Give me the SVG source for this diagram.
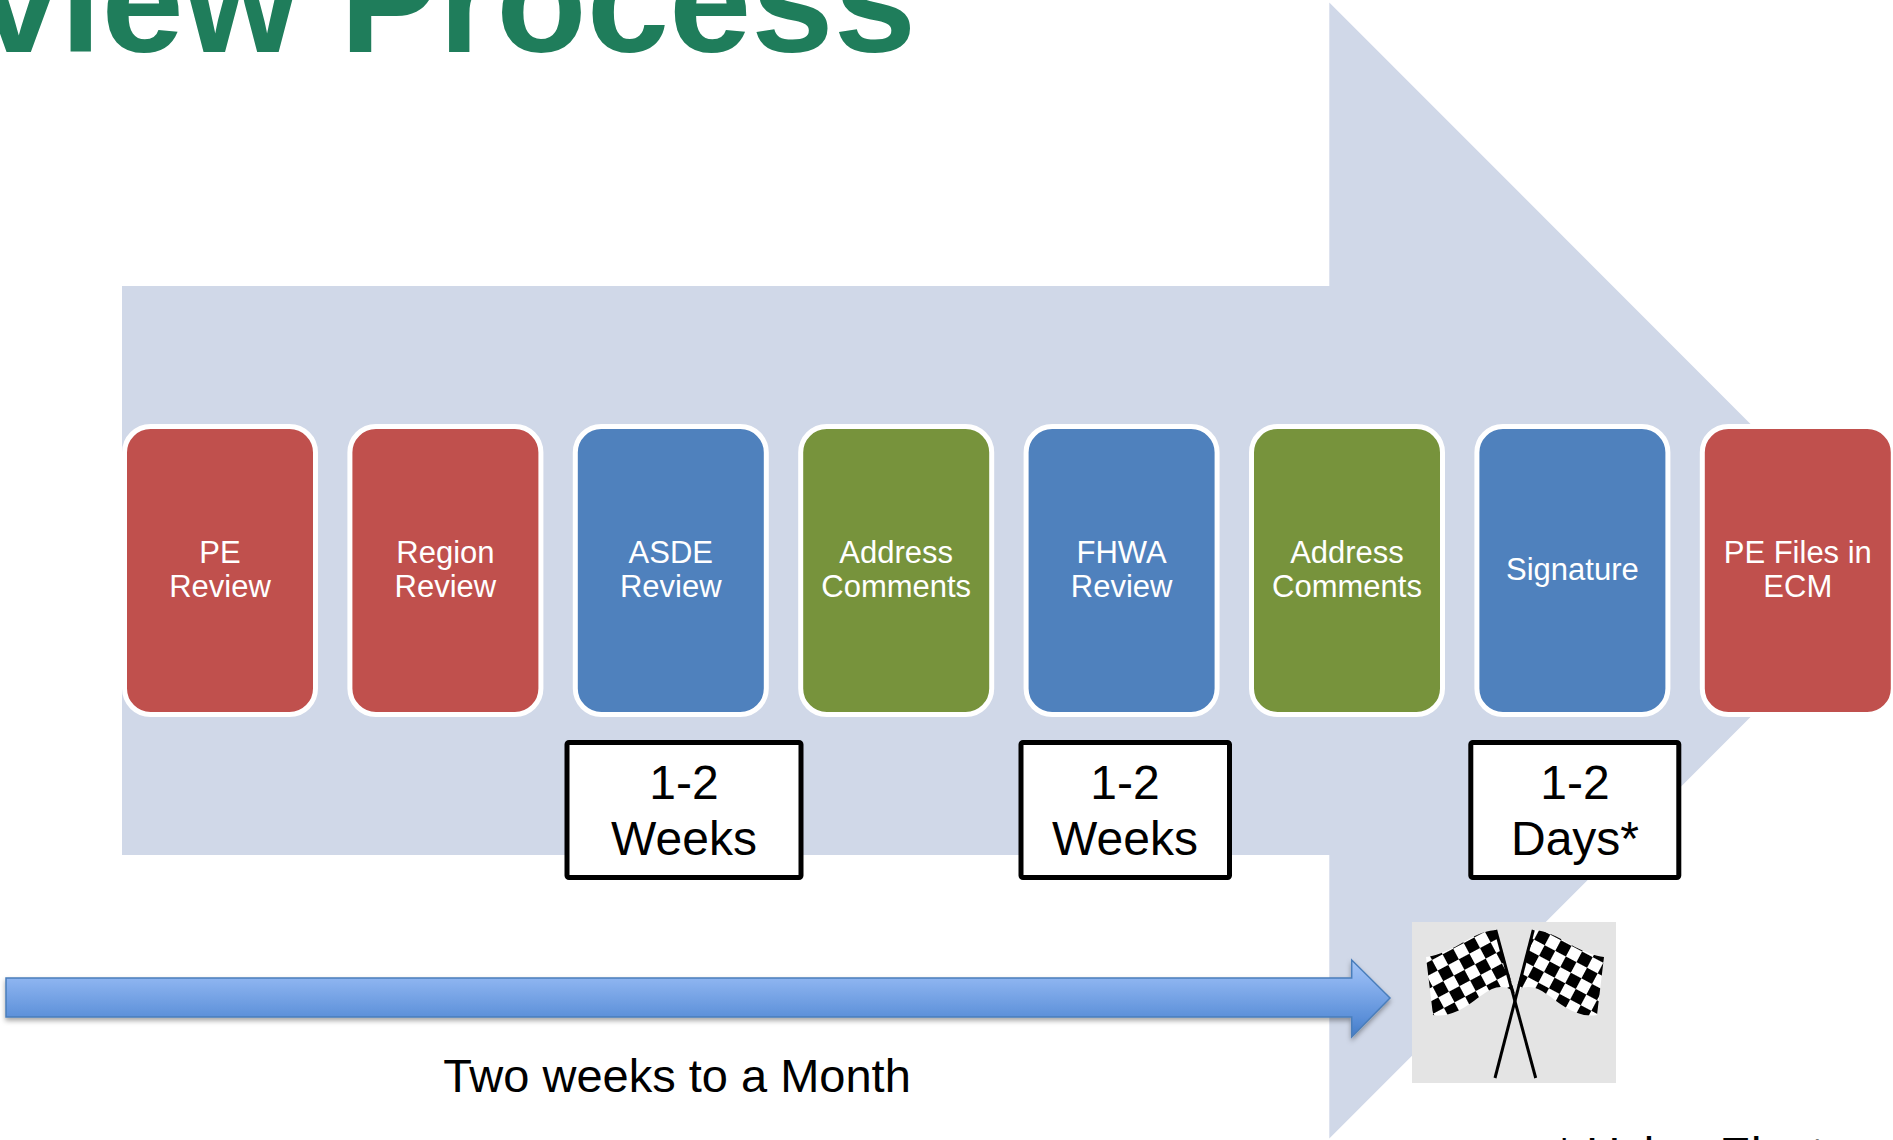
<svg xmlns="http://www.w3.org/2000/svg" width="1893" height="1140" viewBox="0 0 1893 1140">
  <style>
    .step rect { stroke: #FFFFFF; stroke-width: 5; }
    .step text { font-family: "Liberation Sans", Arial, sans-serif; font-size: 31px; fill: #FFFFFF; text-anchor: middle; }
    .red { fill: #C0504D; }
    .blue { fill: #4F81BD; }
    .green { fill: #77933C; }
    .dur rect { fill: #FFFFFF; stroke: #000000; stroke-width: 5; }
    .dur text { font-family: "Liberation Sans", Arial, sans-serif; font-size: 48px; fill: #000000; text-anchor: middle; }
    .plain { font-family: "Liberation Sans", Arial, sans-serif; font-size: 47px; fill: #000000; }
  </style>
  <defs>
    <linearGradient id="timelineFill" gradientUnits="userSpaceOnUse" x1="0" y1="960" x2="0" y2="1037">
      <stop offset="0" stop-color="#A3C4F6"/>
      <stop offset="0.25" stop-color="#8DB4F0"/>
      <stop offset="0.75" stop-color="#5C90D9"/>
      <stop offset="1" stop-color="#447BC6"/>
    </linearGradient>
    <filter id="dropShadow" x="-5%" y="-30%" width="110%" height="180%">
      <feDropShadow dx="0" dy="3" stdDeviation="2.5" flood-color="#000000" flood-opacity="0.35"/>
    </filter>
    <pattern id="checkL" width="24" height="24" patternUnits="userSpaceOnUse" patternTransform="rotate(-28 1460 970)">
      <rect width="24" height="24" fill="#FFFFFF"/>
      <rect width="12" height="12" fill="#000000"/>
      <rect x="12" y="12" width="12" height="12" fill="#000000"/>
    </pattern>
    <pattern id="checkR" width="24" height="24" patternUnits="userSpaceOnUse" patternTransform="rotate(28 1570 970)">
      <rect width="24" height="24" fill="#FFFFFF"/>
      <rect width="12" height="12" fill="#000000"/>
      <rect x="12" y="12" width="12" height="12" fill="#000000"/>
    </pattern>
  </defs>

  <!-- title, partly cut by the top and left edges -->
  <text x="-22" y="52" font-family="'Liberation Sans', Arial, sans-serif" font-weight="bold" font-size="148" fill="#1F7D5B">view Process</text>

  <!-- broad background arrow -->
  <path id="process-arrow" d="M122,286 H1329.3 V2.5 L1897,570.5 L1329.3,1138.5 V855 H122 Z" fill="#D0D8E8"/>

  <!-- process steps -->
  <g id="step-pe-review" class="step">
    <rect class="red" x="124.5" y="426.5" width="191" height="288" rx="26"/>
    <text x="220" y="563">PE</text>
    <text x="220" y="597">Review</text>
  </g>
  <g id="step-region-review" class="step">
    <rect class="red" x="349.9" y="426.5" width="191" height="288" rx="26"/>
    <text x="445.4" y="563">Region</text>
    <text x="445.4" y="597">Review</text>
  </g>
  <g id="step-asde-review" class="step">
    <rect class="blue" x="575.3" y="426.5" width="191" height="288" rx="26"/>
    <text x="670.8" y="563">ASDE</text>
    <text x="670.8" y="597">Review</text>
  </g>
  <g id="step-address-comments-1" class="step">
    <rect class="green" x="800.7" y="426.5" width="191" height="288" rx="26"/>
    <text x="896.2" y="563">Address</text>
    <text x="896.2" y="597">Comments</text>
  </g>
  <g id="step-fhwa-review" class="step">
    <rect class="blue" x="1026.1" y="426.5" width="191" height="288" rx="26"/>
    <text x="1121.6" y="563">FHWA</text>
    <text x="1121.6" y="597">Review</text>
  </g>
  <g id="step-address-comments-2" class="step">
    <rect class="green" x="1251.5" y="426.5" width="191" height="288" rx="26"/>
    <text x="1347" y="563">Address</text>
    <text x="1347" y="597">Comments</text>
  </g>
  <g id="step-signature" class="step">
    <rect class="blue" x="1476.9" y="426.5" width="191" height="288" rx="26"/>
    <text x="1572.4" y="580">Signature</text>
  </g>
  <g id="step-pe-files" class="step">
    <rect class="red" x="1702.3" y="426.5" width="191" height="288" rx="26"/>
    <text x="1797.8" y="563">PE Files in</text>
    <text x="1797.8" y="597">ECM</text>
  </g>

  <!-- durations -->
  <g id="duration-asde" class="dur">
    <rect x="567" y="742.5" width="234" height="135" rx="2"/>
    <text x="684" y="799">1-2</text>
    <text x="684" y="855">Weeks</text>
  </g>
  <g id="duration-fhwa" class="dur">
    <rect x="1021" y="742.5" width="208.5" height="135" rx="2"/>
    <text x="1125" y="799">1-2</text>
    <text x="1125" y="855">Weeks</text>
  </g>
  <g id="duration-signature" class="dur">
    <rect x="1470.8" y="742.5" width="208" height="135" rx="2"/>
    <text x="1575" y="799">1-2</text>
    <text x="1575" y="855">Days*</text>
  </g>

  <!-- overall timeline arrow -->
  <g id="connectors">
    <path d="M6,978 H1351.7 V960 L1390,998 L1351.7,1037 V1017 H6 Z" fill="url(#timelineFill)" stroke="#4A7EBB" stroke-width="1.5" stroke-linejoin="miter" filter="url(#dropShadow)"/>
  </g>
  <text class="plain" x="677" y="1092" text-anchor="middle">Two weeks to a Month</text>

  <!-- finish flags -->
  <g id="finish-flags">
    <rect x="1412" y="922" width="204" height="161" fill="#E4E4E4"/>
    <path d="M1496,930 C1480,931 1468,940 1455,947 C1445,952 1435,956 1426,957 L1433,1015 C1445,1017 1455,1013 1465,1007 C1478,999 1490,986 1502,987 C1508,987 1512,990 1515,994 Z" fill="url(#checkL)"/>
    <path d="M1534,930 C1550,931 1562,940 1575,947 C1585,952 1595,956 1604,957 L1597,1015 C1585,1017 1575,1013 1565,1007 C1552,999 1540,986 1528,987 C1522,987 1518,990 1515,994 Z" fill="url(#checkR)"/>
    <line x1="1495.7" y1="930" x2="1535.7" y2="1078" stroke="#000000" stroke-width="3"/>
    <line x1="1533.3" y1="930" x2="1495" y2="1078" stroke="#000000" stroke-width="3"/>
  </g>

  <!-- footnote, mostly below the bottom edge -->
  <text class="plain" x="1555" y="1170">* Using Elect</text>
</svg>
